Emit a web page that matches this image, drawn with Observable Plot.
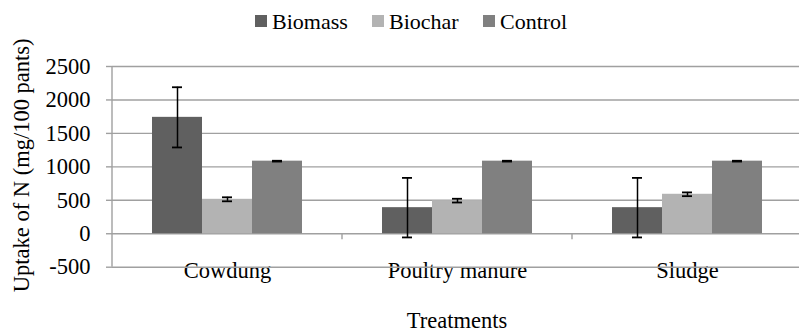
<!DOCTYPE html>
<html>
<head>
<meta charset="utf-8">
<script src="https://cdn.jsdelivr.net/npm/d3@7"></script>
<script src="https://cdn.jsdelivr.net/npm/@observablehq/plot@0.6"></script>
<style>
  html, body { margin: 0; padding: 0; background: #fff; overflow: hidden; }
  #chart svg text { font-family: "Liberation Serif", "Times New Roman", serif; }
</style>
</head>
<body>
<div id="chart"></div>
<script>
const categories = ["Cowdung", "Poultry manure", "Sludge"];
const series = ["Biomass", "Biochar", "Control"];
const biomass = [1740, 390, 390];
const biomassErr = [450, 445, 445];
const biochar = [515, 495, 590];
const biocharErr = [30, 28, 28];
const control = [1085, 1085, 1085];
const controlErr = [6, 6, 6];
const colors = ["#606060", "#b3b3b3", "#808080"];
const yTicks = [-500, 0, 500, 1000, 1500, 2000, 2500];
const yTitle = "Uptake of N (mg/100 pants)";
const xTitle = "Treatments";

const values = [biomass, biochar, control];
const errs = [biomassErr, biocharErr, controlErr];
const data = categories.flatMap((c, i) =>
  series.map((s, j) => ({category: c, series: s, value: values[j][i], err: errs[j][i]}))
);

const gridColor = "#a0a0a0";
const fontSize = 22.5;
const serif = "Liberation Serif";

const chart = Plot.plot({
  width: 799,
  height: 331,
  marginTop: 66,
  marginBottom: 64.3,
  marginLeft: 112,
  marginRight: -3,
  style: {fontSize: fontSize + "px", color: "#000", background: "#fff"},
  fx: {domain: categories, padding: 0, label: null, axis: "bottom", tickSize: 0, tickPadding: -5},
  x: {domain: series, paddingInner: 0, paddingOuter: 0.755, axis: null},
  y: {domain: [-500, 2500], ticks: yTicks, tickFormat: d => String(d), tickSize: 6, tickPadding: 16, label: null},
  color: {domain: series, range: colors},
  marks: [
    Plot.gridY(yTicks, {stroke: gridColor, strokeOpacity: 1, strokeWidth: 1.4}),
    Plot.barY(data, {fx: "category", x: "series", y: "value", fill: "series"}),
    Plot.ruleX(data, {fx: "category", x: "series", y1: d => d.value - d.err, y2: d => d.value + d.err, stroke: "#000", strokeWidth: 1.5}),
    Plot.tickY(data, {fx: "category", x: "series", y: d => d.value - d.err, stroke: "#000", strokeWidth: 1.8, insetLeft: 20, insetRight: 20}),
    Plot.tickY(data, {fx: "category", x: "series", y: d => d.value + d.err, stroke: "#000", strokeWidth: 1.8, insetLeft: 20, insetRight: 20})
  ]
});

document.getElementById("chart").appendChild(chart);

const fx = chart.scale("fx");
const y = chart.scale("y");
const svg = d3.select(chart);

// grey axis ticks
svg.selectAll('[aria-label="y-axis tick"]').attr("stroke", gridColor).attr("stroke-width", 1.4);
svg.selectAll('[aria-label="y-axis tick"] path').attr("stroke", gridColor).attr("stroke-width", 1.4);

// left axis line
const x0 = fx.apply(categories[0]);
svg.append("line")
  .attr("x1", x0).attr("x2", x0)
  .attr("y1", y.apply(-500)).attr("y2", y.apply(2500))
  .attr("stroke", gridColor).attr("stroke-width", 1.4);

// category boundary ticks hanging from the zero line
categories.slice(1).forEach(c => {
  const xb = fx.apply(c);
  svg.append("line")
    .attr("x1", xb).attr("x2", xb)
    .attr("y1", y.apply(0)).attr("y2", y.apply(0) + 6)
    .attr("stroke", gridColor).attr("stroke-width", 1.4);
});

// y-axis title
svg.append("text")
  .attr("transform", `translate(29, ${(y.apply(-500) + y.apply(2500)) / 2 - 1}) rotate(-90)`)
  .attr("text-anchor", "middle")
  .attr("font-family", serif)
  .attr("font-size", fontSize)
  .attr("fill", "#000")
  .text(yTitle);

// x-axis title
svg.append("text")
  .attr("x", 457).attr("y", 327.5)
  .attr("text-anchor", "middle")
  .attr("font-family", serif)
  .attr("font-size", fontSize)
  .attr("fill", "#000")
  .text(xTitle);

// legend
const legendX = [255, 372, 483];
const lg = svg.append("g").attr("text-anchor", "start");
series.forEach((s, i) => {
  lg.append("rect")
    .attr("x", legendX[i]).attr("y", 15)
    .attr("width", 12).attr("height", 12)
    .attr("fill", colors[i]);
  lg.append("text")
    .attr("x", legendX[i] + 17).attr("y", 28.5)
    .attr("text-anchor", "start")
    .attr("font-family", serif)
    .attr("font-size", 22)
    .attr("fill", "#000")
    .text(s);
});
</script>
</body>
</html>
